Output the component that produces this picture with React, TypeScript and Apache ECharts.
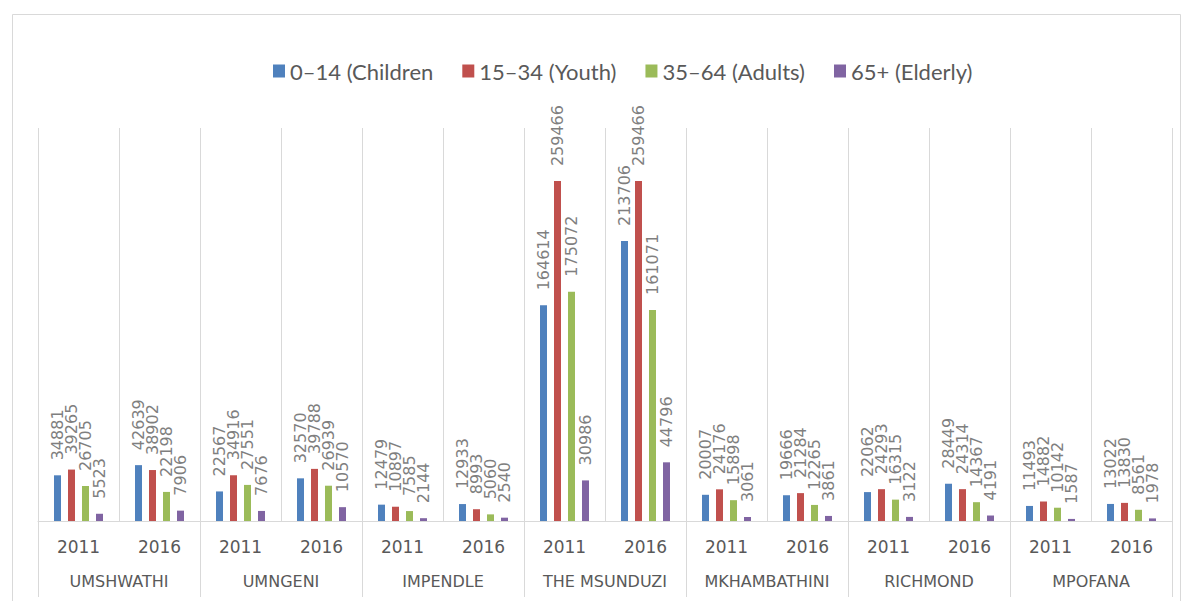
import React, { useEffect, useRef } from "react";
import * as echarts from "echarts";

const years = ["2011", "2016"];
const municipalities = [
  "UMSHWATHI",
  "UMNGENI",
  "IMPENDLE",
  "THE MSUNDUZI",
  "MKHAMBATHINI",
  "RICHMOND",
  "MPOFANA",
];
const seriesNames = ["0–14 (Children", "15–34 (Youth)", "35–64 (Adults)", "65+ (Elderly)"];
const colors = ["#4f81bd", "#c0504d", "#9bbb59", "#8064a2"];

// order: UMSHWATHI 2011, 2016, UMNGENI 2011, 2016, ...
const children = [34881, 42639, 22567, 32570, 12479, 12933, 164614, 213706, 20007, 19666, 22062, 28449, 11493, 13022];
const youth = [39265, 38902, 34916, 39788, 10897, 8993, 259466, 259466, 24176, 21284, 24293, 24314, 14882, 13830];
const adults = [26705, 22198, 27551, 26939, 7585, 5060, 175072, 161071, 15898, 12265, 16315, 14367, 10142, 8561];
const elderly = [5523, 7906, 7676, 10570, 2144, 2540, 30986, 44796, 3061, 3861, 3122, 4191, 1587, 1978];

const seriesValues = [children, youth, adults, elderly];
const categories = municipalities.flatMap(() => years);

export default function App() {
  const ref = useRef<HTMLDivElement>(null);
  useEffect(() => {
    if (!ref.current) return;
    const chart = echarts.init(ref.current, undefined, { renderer: "svg" });
    const grid = "#d9d9d9";
    chart.setOption({
      animation: false,
      backgroundColor: "#ffffff",
      graphic: [
        {
          type: "rect",
          shape: { x: 12.5, y: 14.5, width: 1168, height: 640 },
          style: { fill: "none", stroke: grid, lineWidth: 1 },
          silent: true,
        },
      ],
      legend: {
        data: seriesNames,
        left: 268,
        top: 55,
        itemWidth: 12,
        itemHeight: 13,
        itemGap: 29,
        icon: "rect",
        textStyle: { fontSize: 22, color: "#595959", fontFamily: "Lato" },
      },
      grid: { left: 38, right: 15, top: 128, bottom: 80, containLabel: false },
      xAxis: [
        {
          type: "category",
          data: categories,
          axisLine: { show: true, lineStyle: { color: grid } },
          axisTick: { show: false },
          splitLine: { show: true, interval: 0, lineStyle: { color: grid } },
          axisLabel: {
            interval: 0,
            margin: 17,
            fontSize: 17,
            color: "#595959",
            fontFamily: "DejaVu Sans",
          },
        },
        {
          type: "category",
          data: municipalities,
          position: "bottom",
          axisLine: { show: false },
          axisTick: { show: true, length: 76, lineStyle: { color: grid } },
          splitLine: { show: false },
          axisLabel: {
            interval: 0,
            margin: 52,
            fontSize: 16,
            color: "#595959",
            fontFamily: "DejaVu Sans",
          },
        },
      ],
      yAxis: {
        type: "value",
        min: 0,
        max: 300000,
        show: false,
        splitLine: { show: false },
      },
      series: seriesValues.map((vals, i) => ({
        name: seriesNames[i],
        type: "bar",
        xAxisIndex: 0,
        data: vals,
        barWidth: 7,
        barGap: "100%",
        itemStyle: { color: colors[i] },
        label: {
          show: true,
          position: "top",
          rotate: 90,
          align: "left",
          verticalAlign: "middle",
          distance: 15,
          fontSize: 16,
          fontFamily: "DejaVu Sans",
          color: "#7f7f7f",
        },
      })),
    });
    return () => chart.dispose();
  }, []);
  return (
    <div
      ref={ref}
      style={{ position: "fixed", left: 0, top: 0, width: 1187, height: 601 }}
    />
  );
}
